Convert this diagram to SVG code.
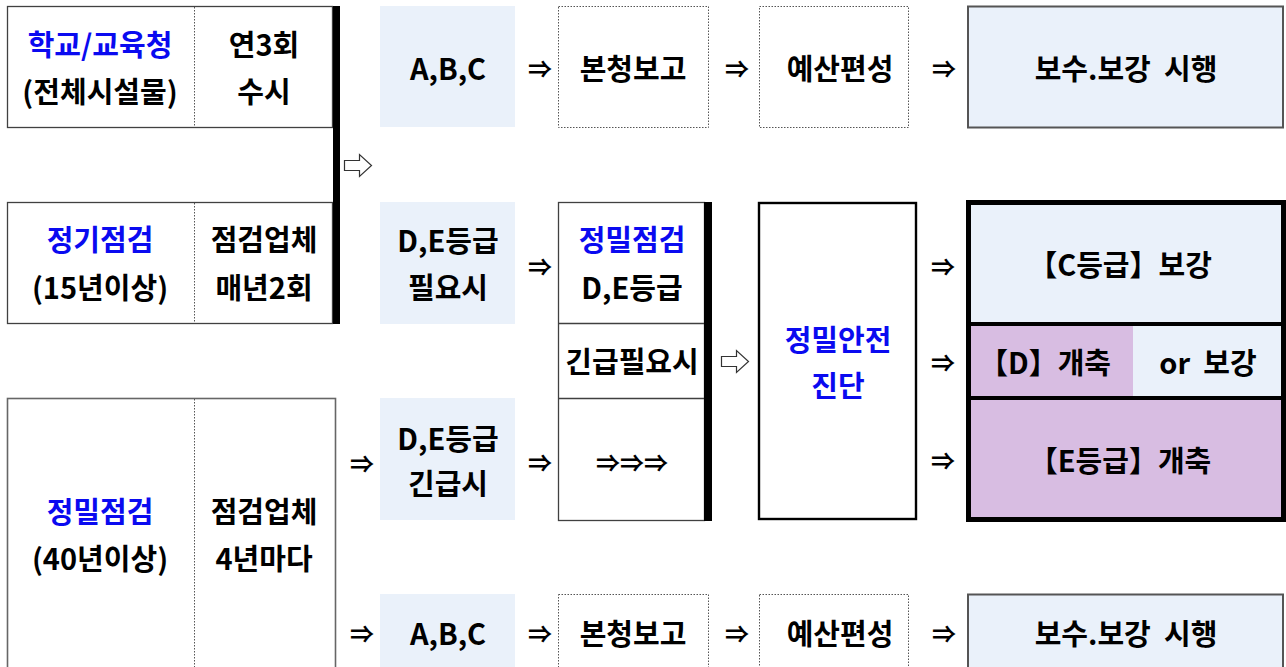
<svg xmlns="http://www.w3.org/2000/svg" width="1286" height="667" viewBox="0 0 1286 667">
<style>
text{font-family:"Malgun Gothic","Noto Sans CJK KR",sans-serif;font-weight:bold;font-size:29px;fill:#000;text-anchor:middle;dominant-baseline:central;white-space:pre}
.b{fill:#0A0AF0}
.ar{font-size:24px}
.thin{fill:none;stroke:#404040;stroke-width:1.3}
.dot{fill:none;stroke:#555;stroke-width:1;stroke-dasharray:1.5,1.5}
.lb{fill:#EAF1FA}
.pu{fill:#D8BDE2}
.oa{fill:#fff;stroke:#333;stroke-width:1.2}
</style>
<rect width="1286" height="667" fill="#fff"/>
<g id="n-school">
<rect class="thin" x="7.5" y="6.5" width="325" height="121"/>
<line class="dot" x1="194.5" y1="7" x2="194.5" y2="127"/>
<text class="b" x="100" y="43">학교/교육청</text>
<text x="100" y="90">(전체시설물)</text>
<text x="264" y="43">연3회</text>
<text x="264" y="90">수시</text>
</g>
<g id="n-regular">
<rect class="thin" x="7.5" y="202.5" width="325" height="121"/>
<line class="dot" x1="194.5" y1="203" x2="194.5" y2="323"/>
<text class="b" x="100" y="238">정기점검</text>
<text x="100" y="286">(15년이상)</text>
<text x="264" y="238">점검업체</text>
<text x="264" y="286">매년2회</text>
</g>
<rect x="333" y="6" width="7" height="318" fill="#000"/>
<g id="n-precise">
<rect x="7.5" y="398.5" width="328" height="280" fill="none" stroke="#666" stroke-width="1.6"/>
<line class="dot" x1="194.5" y1="399" x2="194.5" y2="667"/>
<text class="b" x="100" y="510">정밀점검</text>
<text x="100" y="557">(40년이상)</text>
<text x="264" y="510">점검업체</text>
<text x="264" y="557">4년마다</text>
</g>
<g id="n-abc1"><rect class="lb" x="380" y="6" width="135" height="121"/><text x="448" y="67">A,B,C</text></g>
<g id="n-report1"><rect class="dot" x="558.5" y="6.5" width="150" height="121"/><text x="633" y="67">본청보고</text></g>
<g id="n-budget1"><rect class="dot" x="759.5" y="6.5" width="149" height="121"/><text x="840" y="67">예산편성</text></g>
<g id="n-repair1"><rect class="lb" x="968" y="6.5" width="315" height="121" stroke="#555" stroke-width="2"/><text x="1126" y="67">보수.보강  시행</text></g>
<g id="n-de-need"><rect class="lb" x="380" y="202" width="135" height="122"/><text x="448" y="239">D,E등급</text><text x="448" y="286">필요시</text></g>
<g id="n-de-urgent"><rect class="lb" x="380" y="398" width="135" height="122"/><text x="448" y="437">D,E등급</text><text x="448" y="482">긴급시</text></g>
<g id="n-col">
<rect class="thin" x="558.5" y="202.5" width="146" height="318"/>
<line class="thin" x1="558" y1="323.5" x2="705" y2="323.5"/>
<line class="thin" x1="558" y1="398.5" x2="705" y2="398.5"/>
<rect x="704" y="202" width="8" height="319" fill="#000"/>
<text class="b" x="632" y="238">정밀점검</text>
<text x="632" y="286">D,E등급</text>
<text x="632" y="360">긴급필요시</text>
<text class="ar" x="632" y="461">⇒⇒⇒</text>
</g>
<g id="n-diagnosis">
<rect x="759" y="203" width="157" height="316" fill="none" stroke="#000" stroke-width="2.4"/>
<text class="b" x="838" y="338">정밀안전</text>
<text class="b" x="838" y="384">진단</text>
</g>
<g id="n-grades">
<rect class="lb" x="968" y="202" width="316" height="122"/>
<rect class="pu" x="968" y="324" width="165" height="75"/>
<rect class="lb" x="1133" y="324" width="151" height="75"/>
<rect class="pu" x="968" y="399" width="316" height="120"/>
<rect x="968.5" y="202.5" width="315" height="317" fill="none" stroke="#000" stroke-width="5"/>
<line x1="968" y1="324" x2="1284" y2="324" stroke="#000" stroke-width="4"/>
<line x1="968" y1="398" x2="1284" y2="398" stroke="#000" stroke-width="4"/>
<text x="1120" y="263">【C등급】보강</text>
<text x="1045" y="361">【D】개축</text>
<text x="1208" y="361">or  보강</text>
<text x="1120" y="459">【E등급】개축</text>
</g>
<g id="n-abc2"><rect class="lb" x="380" y="594" width="135" height="80"/><text x="448" y="632">A,B,C</text></g>
<g id="n-report2"><rect class="dot" x="558.5" y="594.5" width="150" height="80"/><text x="633" y="632">본청보고</text></g>
<g id="n-budget2"><rect class="dot" x="759.5" y="594.5" width="149" height="80"/><text x="840" y="632">예산편성</text></g>
<g id="n-repair2"><rect class="lb" x="968" y="594.5" width="315" height="80" stroke="#555" stroke-width="2"/><text x="1126" y="632">보수.보강  시행</text></g>
<g id="connectors">
<polygon class="oa" points="344.5,160.5 359.5,160.5 359.5,154.5 371.5,165.5 359.5,176.5 359.5,170.5 344.5,170.5"/>
<polygon class="oa" points="721.5,356.5 736.5,356.5 736.5,350.5 748.5,361.5 736.5,372.5 736.5,366.5 721.5,366.5"/>
<text class="ar" x="540" y="67">⇒</text>
<text class="ar" x="737" y="67">⇒</text>
<text class="ar" x="944" y="67">⇒</text>
<text class="ar" x="540" y="265">⇒</text>
<text class="ar" x="943" y="265">⇒</text>
<text class="ar" x="943" y="361">⇒</text>
<text class="ar" x="943" y="459">⇒</text>
<text class="ar" x="362" y="462">⇒</text>
<text class="ar" x="540" y="461">⇒</text>
<text class="ar" x="362" y="632">⇒</text>
<text class="ar" x="540" y="632">⇒</text>
<text class="ar" x="737" y="632">⇒</text>
<text class="ar" x="944" y="632">⇒</text>
</g>
</svg>
